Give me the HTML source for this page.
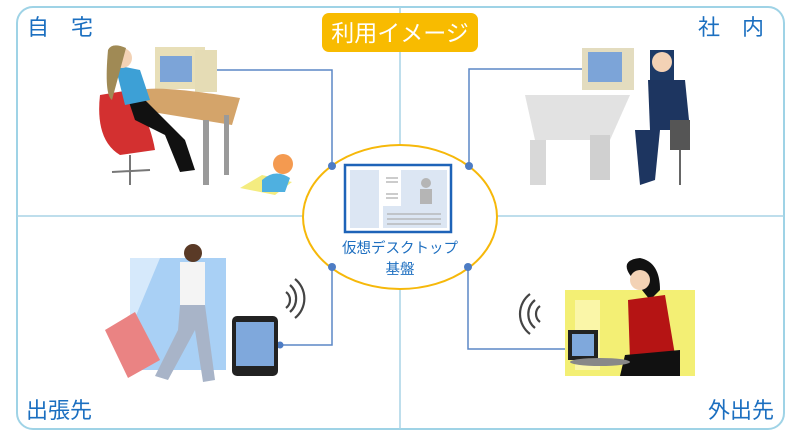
<!DOCTYPE html>
<html><head><meta charset="utf-8"><style>
html,body{margin:0;padding:0;background:#fff;width:800px;height:437px;overflow:hidden}
svg{display:block}
text{font-family:"Liberation Sans","Noto Sans CJK JP",sans-serif}
</style></head><body>
<svg width="800" height="437" viewBox="0 0 800 437" xmlns="http://www.w3.org/2000/svg">
<rect x="17" y="7" width="767" height="422" rx="16" fill="#fff" stroke="#9fd3e6" stroke-width="2"/>
<line x1="400" y1="7" x2="400" y2="429" stroke="#a8d4e6" stroke-width="1.5"/>
<line x1="17" y1="216" x2="784" y2="216" stroke="#a8d4e6" stroke-width="1.5"/>
<!-- title -->
<rect x="322" y="13" width="156" height="39" rx="7" fill="#f8bb00"/>
<text x="400" y="41" text-anchor="middle" font-size="23" fill="#fff">利用イメージ</text>
<!-- corner labels -->
<g fill="#1b6fc0" font-size="22">
<text x="27" y="35">自　宅</text>
<text x="698" y="35">社　内</text>
<text x="26" y="418">出張先</text>
<text x="708" y="418">外出先</text>
</g>
<!-- connectors -->
<g fill="none" stroke="#5b87c6" stroke-width="1.5">
<polyline points="332,166 332,70 192,70"/>
<polyline points="469,166 469,69 602,69"/>
<polyline points="332,267 332,345 280,345"/>
<polyline points="468,267 468,349 580,349"/>
</g>
<!-- ellipse -->
<ellipse cx="400" cy="217" rx="97" ry="72" fill="#fff" stroke="#f6b80a" stroke-width="2"/>
<g fill="#4d7cc4"><circle cx="332" cy="166" r="4"/><circle cx="469" cy="166" r="4"/><circle cx="332" cy="267" r="4"/><circle cx="468" cy="267" r="4"/><circle cx="192" cy="70" r="3.5"/><circle cx="602" cy="69" r="3.5"/><circle cx="280" cy="345" r="3.5"/><circle cx="580" cy="349" r="3.5"/></g>
<!-- screen icon -->
<rect x="345" y="165" width="106" height="67" fill="#fff" stroke="#1e63b8" stroke-width="2.5"/>
<rect x="350" y="170" width="29" height="58" fill="#dce6f3"/>
<rect x="383" y="170" width="64" height="58" fill="#dce6f3"/>
<rect x="383" y="170" width="18" height="36" fill="#fff"/>
<rect x="403" y="172" width="44" height="34" fill="#dce6f3"/>
<circle cx="426" cy="183" r="5" fill="#b5b5b5"/><rect x="420" y="189" width="12" height="15" fill="#b5b5b5"/>
<g stroke="#b0b0b0" stroke-width="1.3"><line x1="386" y1="178" x2="398" y2="178"/><line x1="386" y1="182" x2="398" y2="182"/><line x1="386" y1="194" x2="398" y2="194"/><line x1="386" y1="198" x2="398" y2="198"/><line x1="387" y1="214" x2="441" y2="214"/><line x1="387" y1="219" x2="441" y2="219"/><line x1="387" y1="224" x2="441" y2="224"/></g>
<text x="400" y="253" text-anchor="middle" font-size="14.5" fill="#1e6fc0">仮想デスクトップ</text>
<text x="400" y="274" text-anchor="middle" font-size="14.5" fill="#1e6fc0">基盤</text>
<!-- home scene -->
<rect x="155" y="47" width="50" height="42" fill="#e8dfb8"/><rect x="160" y="56" width="32" height="26" fill="#7ca4d8"/>
<rect x="195" y="50" width="22" height="42" fill="#e5dcb5"/>
<path d="M140 90 Q160 85 240 98 L232 125 L140 110Z" fill="#d4a46a"/>
<rect x="203" y="120" width="6" height="65" fill="#9a9a9a"/><rect x="224" y="115" width="5" height="60" fill="#9a9a9a"/>
<path d="M100 95 Q95 140 120 155 L155 150 Q150 120 130 90Z" fill="#d33030"/>
<path d="M120 75 L150 105 L185 140 L195 170 L180 172 L165 135 L135 120Z" fill="#111"/>
<path d="M115 65 L140 70 L150 100 L125 105Z" fill="#3da0d6"/>
<circle cx="122" cy="58" r="10" fill="#f3d2b5"/><path d="M108 50 Q112 42 126 48 L112 100 Q104 95 108 50Z" fill="#a08a55"/>
<line x1="130" y1="155" x2="130" y2="185" stroke="#777" stroke-width="2"/><line x1="112" y1="172" x2="150" y2="170" stroke="#777" stroke-width="2"/>
<path d="M240 188 L262 175 L292 182 L275 195Z" fill="#f4ec80"/><circle cx="283" cy="164" r="10" fill="#f49a50"/><path d="M262 180 Q275 168 290 178 L285 192 L262 192Z" fill="#4fb0e0"/>
<!-- office scene -->
<path d="M525 95 L630 95 L610 140 L535 140Z" fill="#e2e2e2"/><rect x="530" y="140" width="16" height="45" fill="#d8d8d8"/><rect x="590" y="135" width="20" height="45" fill="#d0d0d0"/>
<rect x="582" y="48" width="52" height="42" fill="#e3dcbf"/><rect x="588" y="52" width="34" height="30" fill="#7ca4d8"/>
<rect x="650" y="50" width="24" height="40" fill="#1d3a66"/><circle cx="662" cy="62" r="10" fill="#f3d2b5"/>
<path d="M648 80 L685 80 L690 130 L650 130Z" fill="#1d3560"/>
<path d="M635 130 L660 130 L655 180 L640 185Z" fill="#1d3560"/><rect x="670" y="120" width="20" height="30" fill="#555"/>
<line x1="680" y1="150" x2="680" y2="185" stroke="#666" stroke-width="2"/>
<!-- travel scene -->
<rect x="130" y="258" width="96" height="112" fill="#a9d0f5"/><path d="M130 258 L160 258 L130 330Z" fill="#d6e9fb"/>
<circle cx="193" cy="253" r="9" fill="#5a3a26"/><path d="M180 262 L205 262 L205 305 L180 305Z" fill="#f4f4f4"/>
<path d="M180 305 L205 305 L215 380 L203 382 L195 330 L168 380 L155 376 L178 330Z" fill="#a8b4c8"/>
<path d="M105 330 L135 312 L160 360 L128 378Z" fill="#ea8383"/>
<rect x="232" y="316" width="46" height="60" rx="5" fill="#222"/><rect x="236" y="322" width="38" height="44" fill="#7fa8dc"/>
<g fill="none" stroke="#444" stroke-width="2.2"><path d="M286 292 A10 10 0 0 1 286 308"/><path d="M290 285 A18 18 0 0 1 290 312"/><path d="M295 279 A25 25 0 0 1 295 318"/></g>
<!-- cafe scene -->
<rect x="565" y="290" width="130" height="86" fill="#f3ef74"/>
<path d="M575 300 L600 300 L600 370 L575 370Z" fill="#faf6a8"/>
<path d="M630 275 Q620 260 640 258 Q660 262 660 290 L650 300Z" fill="#111"/>
<circle cx="640" cy="280" r="10" fill="#f3d2b5"/>
<path d="M628 300 L665 295 L675 355 L630 360Z" fill="#b51414"/><path d="M625 355 L680 350 L680 376 L620 376Z" fill="#111"/>
<rect x="568" y="330" width="30" height="30" fill="#222"/><rect x="572" y="334" width="22" height="22" fill="#7fa8dc"/>
<ellipse cx="600" cy="362" rx="30" ry="4" fill="#888"/>
<g fill="none" stroke="#444" stroke-width="2.2"><path d="M540 306 A10 10 0 0 0 540 322"/><path d="M535 300 A18 18 0 0 0 535 328"/><path d="M530 294 A25 25 0 0 0 530 334"/></g>
</svg>
</body></html>
